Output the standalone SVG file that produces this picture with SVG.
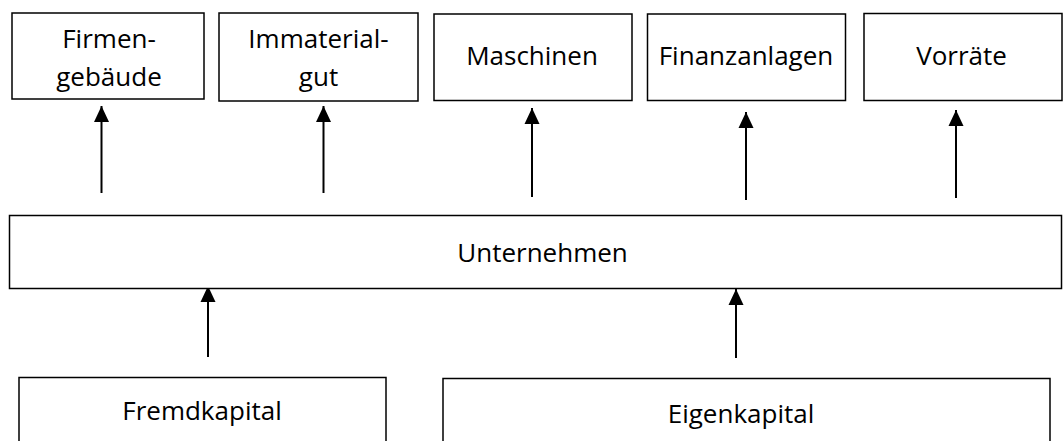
<svg xmlns="http://www.w3.org/2000/svg" width="1064" height="441" viewBox="0 0 1064 441">
<style>
.box{fill:#fff;stroke:#000;stroke-width:1.5}
.t{font-family:"Open Sans","Liberation Sans",sans-serif;font-size:26px;fill:#000;text-anchor:middle}
.c{stroke:#000;stroke-width:2;fill:none;marker-end:url(#ah)}
</style>
<defs>
<marker id="ah" markerUnits="userSpaceOnUse" markerWidth="16" markerHeight="16" viewBox="0 0 16 15" refX="16" refY="7.5" orient="auto">
<path d="M0,0 L16,7.5 L0,15 Z" fill="#000"/>
</marker>
</defs>
<rect width="1064" height="441" fill="#fff"/>
<g id="connectors">
<line class="c" x1="101.5" y1="193" x2="101.5" y2="106"/>
<line class="c" x1="323.5" y1="193" x2="323.5" y2="106"/>
<line class="c" x1="532" y1="197" x2="532" y2="108"/>
<line class="c" x1="746" y1="200" x2="746" y2="112"/>
<line class="c" x1="956" y1="198" x2="956" y2="110"/>
<line class="c" x1="208" y1="357" x2="208" y2="286"/>
<line class="c" x1="736" y1="358" x2="736" y2="289"/>
</g>
<g id="firmengebaeude">
<rect class="box" x="12" y="13" width="192" height="86"/>
<text class="t" x="109" y="48">Firmen-</text>
<text class="t" x="109" y="86">gebäude</text>
</g>
<g id="immaterialgut">
<rect class="box" x="219" y="13" width="199" height="88"/>
<text class="t" x="318.5" y="48">Immaterial-</text>
<text class="t" x="318.5" y="86">gut</text>
</g>
<g id="maschinen">
<rect class="box" x="434" y="14" width="198" height="86.5"/>
<text class="t" x="532" y="65">Maschinen</text>
</g>
<g id="finanzanlagen">
<rect class="box" x="647.5" y="14" width="198" height="86.5"/>
<text class="t" x="746" y="65">Finanzanlagen</text>
</g>
<g id="vorraete">
<rect class="box" x="864" y="13.5" width="198" height="87"/>
<text class="t" x="961.5" y="65">Vorräte</text>
</g>
<g id="unternehmen">
<rect class="box" x="9.5" y="215.5" width="1052" height="73"/>
<text class="t" x="542.5" y="262">Unternehmen</text>
</g>
<g id="fremdkapital">
<rect class="box" x="19" y="377.5" width="367" height="80"/>
<text class="t" x="202" y="420">Fremdkapital</text>
</g>
<g id="eigenkapital">
<rect class="box" x="443" y="378.5" width="607" height="80"/>
<text class="t" x="741" y="423">Eigenkapital</text>
</g>
</svg>
